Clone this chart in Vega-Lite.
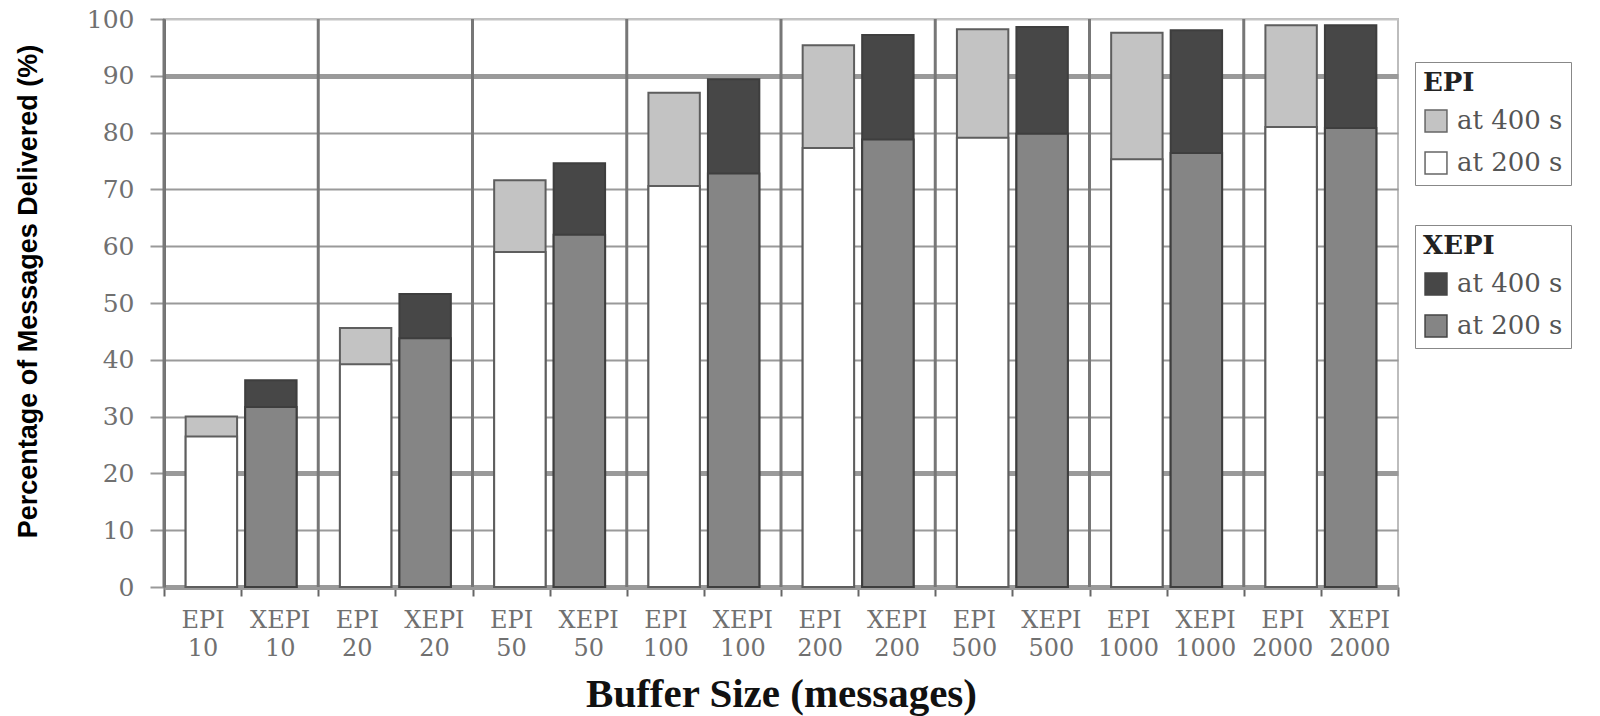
{
  "$schema": "https://vega.github.io/schema/vega-lite/v6.json",
  "autosize": {"type": "none"},
  "padding": {"left": 164, "top": 19, "right": 202, "bottom": 129},
  "width": 1234,
  "height": 568,
  "background": "#ffffff",
  "config": {
    "font": "DejaVu Serif",
    "view": {"stroke": "#bdbdbd", "strokeWidth": 2}
  },
  "data": {
    "values": [
      {"cat": "EPI 10", "group": "10", "series": "EPI", "time": "at 400 s", "pct": 30.0},
      {"cat": "EPI 10", "group": "10", "series": "EPI", "time": "at 200 s", "pct": 26.5},
      {"cat": "XEPI 10", "group": "10", "series": "XEPI", "time": "at 400 s", "pct": 36.4},
      {"cat": "XEPI 10", "group": "10", "series": "XEPI", "time": "at 200 s", "pct": 31.7},
      {"cat": "EPI 20", "group": "20", "series": "EPI", "time": "at 400 s", "pct": 45.6},
      {"cat": "EPI 20", "group": "20", "series": "EPI", "time": "at 200 s", "pct": 39.2},
      {"cat": "XEPI 20", "group": "20", "series": "XEPI", "time": "at 400 s", "pct": 51.6},
      {"cat": "XEPI 20", "group": "20", "series": "XEPI", "time": "at 200 s", "pct": 43.8},
      {"cat": "EPI 50", "group": "50", "series": "EPI", "time": "at 400 s", "pct": 71.6},
      {"cat": "EPI 50", "group": "50", "series": "EPI", "time": "at 200 s", "pct": 59.0},
      {"cat": "XEPI 50", "group": "50", "series": "XEPI", "time": "at 400 s", "pct": 74.6},
      {"cat": "XEPI 50", "group": "50", "series": "XEPI", "time": "at 200 s", "pct": 62.0},
      {"cat": "EPI 100", "group": "100", "series": "EPI", "time": "at 400 s", "pct": 87.0},
      {"cat": "EPI 100", "group": "100", "series": "EPI", "time": "at 200 s", "pct": 70.6},
      {"cat": "XEPI 100", "group": "100", "series": "XEPI", "time": "at 400 s", "pct": 89.4},
      {"cat": "XEPI 100", "group": "100", "series": "XEPI", "time": "at 200 s", "pct": 72.8},
      {"cat": "EPI 200", "group": "200", "series": "EPI", "time": "at 400 s", "pct": 95.4},
      {"cat": "EPI 200", "group": "200", "series": "EPI", "time": "at 200 s", "pct": 77.3},
      {"cat": "XEPI 200", "group": "200", "series": "XEPI", "time": "at 400 s", "pct": 97.2},
      {"cat": "XEPI 200", "group": "200", "series": "XEPI", "time": "at 200 s", "pct": 78.8},
      {"cat": "EPI 500", "group": "500", "series": "EPI", "time": "at 400 s", "pct": 98.2},
      {"cat": "EPI 500", "group": "500", "series": "EPI", "time": "at 200 s", "pct": 79.1},
      {"cat": "XEPI 500", "group": "500", "series": "XEPI", "time": "at 400 s", "pct": 98.6},
      {"cat": "XEPI 500", "group": "500", "series": "XEPI", "time": "at 200 s", "pct": 79.8},
      {"cat": "EPI 1000", "group": "1000", "series": "EPI", "time": "at 400 s", "pct": 97.6},
      {"cat": "EPI 1000", "group": "1000", "series": "EPI", "time": "at 200 s", "pct": 75.3},
      {"cat": "XEPI 1000", "group": "1000", "series": "XEPI", "time": "at 400 s", "pct": 98.0},
      {"cat": "XEPI 1000", "group": "1000", "series": "XEPI", "time": "at 200 s", "pct": 76.4},
      {"cat": "EPI 2000", "group": "2000", "series": "EPI", "time": "at 400 s", "pct": 98.9},
      {"cat": "EPI 2000", "group": "2000", "series": "EPI", "time": "at 200 s", "pct": 81.0},
      {"cat": "XEPI 2000", "group": "2000", "series": "XEPI", "time": "at 400 s", "pct": 98.9},
      {"cat": "XEPI 2000", "group": "2000", "series": "XEPI", "time": "at 200 s", "pct": 80.8}
    ]
  },
  "layer": [
    {
      "transform": [{"filter": "datum.series == 'EPI' && datum.time == 'at 200 s'"}],
      "mark": {"type": "rule", "color": "#777777", "strokeWidth": 3},
      "encoding": {
        "x": {
          "field": "cat",
          "type": "nominal",
          "bandPosition": 0,
          "scale": {
            "domain": ["EPI 10", "XEPI 10", "EPI 20", "XEPI 20", "EPI 50", "XEPI 50", "EPI 100", "XEPI 100", "EPI 200", "XEPI 200", "EPI 500", "XEPI 500", "EPI 1000", "XEPI 1000", "EPI 2000", "XEPI 2000"],
            "paddingInner": 0,
            "paddingOuter": 0
          },
          "axis": {
            "orient": "bottom",
            "title": "Buffer Size (messages)",
            "titleFont": "Liberation Serif",
            "titleFontWeight": "bold",
            "titleFontSize": 41,
            "titleColor": "#111111",
            "titleBaseline": "alphabetic",
            "titleY": 119,
            "labelExpr": "split(datum.label, ' ')",
            "labelFont": "DejaVu Serif",
            "labelFontSize": 24,
            "labelLineHeight": 28,
            "labelColor": "#707070",
            "labelAngle": 0,
            "labelPadding": 12,
            "tickBand": "extent",
            "tickColor": "#666666",
            "tickWidth": 2,
            "tickSize": 9,
            "domainColor": "#9a9a9a",
            "domainWidth": 5,
            "grid": false
          }
        }
      }
    },
    {
      "transform": [{"filter": "datum.series == 'EPI'"}],
      "mark": {"type": "bar", "stroke": "#5e5e5e", "strokeWidth": 2},
      "encoding": {
        "x": {
          "field": "group",
          "type": "nominal",
          "scale": {"domain": ["10", "20", "50", "100", "200", "500", "1000", "2000"], "paddingInner": 0, "paddingOuter": 0},
          "axis": null
        },
        "xOffset": {
          "field": "series",
          "type": "nominal",
          "scale": {"domain": ["EPI", "XEPI"], "paddingInner": 0.136, "paddingOuter": 0.364}
        },
        "y": {
          "field": "pct",
          "type": "quantitative",
          "stack": null,
          "scale": {"domain": [0, 100]},
          "axis": {
            "values": [0, 10, 20, 30, 40, 50, 60, 70, 80, 90, 100],
            "title": "Percentage of Messages Delivered (%)",
            "titleFont": "Liberation Sans",
            "titleFontWeight": "bold",
            "titleFontSize": 27,
            "titleColor": "#000000",
            "titleX": -122,
            "titleY": 272,
            "labelFont": "DejaVu Serif",
            "labelFontSize": 25,
            "labelColor": "#707070",
            "labelPadding": 16,
            "tickColor": "#999999",
            "tickWidth": 2,
            "tickSize": 14,
            "domainColor": "#707070",
            "domainWidth": 3,
            "grid": true,
            "gridColor": {"condition": {"test": "datum.value == 100", "value": "#c4c4c4"}, "value": "#9a9a9a"},
            "gridWidth": {"condition": {"test": "datum.value == 20 || datum.value == 90", "value": 5}, "value": 2}
          }
        },
        "color": {
          "field": "time",
          "type": "nominal",
          "scale": {"domain": ["at 400 s", "at 200 s"], "range": ["#c3c3c3", "#ffffff"]},
          "legend": {
            "title": "EPI",
            "orient": "none",
            "legendX": 1251,
            "legendY": 43,
            "titleFont": "DejaVu Serif",
            "titleFontWeight": "bold",
            "titleFontSize": 26,
            "titleColor": "#222222",
            "titlePadding": 12,
            "labelFont": "DejaVu Serif",
            "labelFontSize": 26,
            "labelColor": "#555555",
            "labelOffset": 8,
            "symbolType": "square",
            "symbolSize": 480,
            "symbolStrokeColor": "#666666",
            "symbolStrokeWidth": 1.5,
            "rowPadding": 14,
            "padding": 8,
            "strokeColor": "#888888"
          }
        },
        "order": {"field": "pct", "sort": "descending"}
      }
    },
    {
      "transform": [{"filter": "datum.series == 'XEPI'"}],
      "mark": {"type": "bar", "stroke": "#3e3e3e", "strokeWidth": 2},
      "encoding": {
        "x": {
          "field": "group",
          "type": "nominal",
          "scale": {"domain": ["10", "20", "50", "100", "200", "500", "1000", "2000"], "paddingInner": 0, "paddingOuter": 0},
          "axis": null
        },
        "xOffset": {
          "field": "series",
          "type": "nominal",
          "scale": {"domain": ["EPI", "XEPI"], "paddingInner": 0.136, "paddingOuter": 0.364}
        },
        "y": {
          "field": "pct",
          "type": "quantitative",
          "stack": null
        },
        "color": {
          "field": "time",
          "type": "nominal",
          "scale": {"domain": ["at 400 s", "at 200 s"], "range": ["#474747", "#858585"]},
          "legend": {
            "title": "XEPI",
            "orient": "none",
            "legendX": 1251,
            "legendY": 206,
            "titleFont": "DejaVu Serif",
            "titleFontWeight": "bold",
            "titleFontSize": 26,
            "titleColor": "#222222",
            "titlePadding": 12,
            "labelFont": "DejaVu Serif",
            "labelFontSize": 26,
            "labelColor": "#555555",
            "labelOffset": 8,
            "symbolType": "square",
            "symbolSize": 480,
            "symbolStrokeColor": "#444444",
            "symbolStrokeWidth": 1.5,
            "rowPadding": 14,
            "padding": 8,
            "strokeColor": "#888888"
          }
        },
        "order": {"field": "pct", "sort": "descending"}
      }
    }
  ],
  "resolve": {"scale": {"x": "independent", "color": "independent"}}
}
